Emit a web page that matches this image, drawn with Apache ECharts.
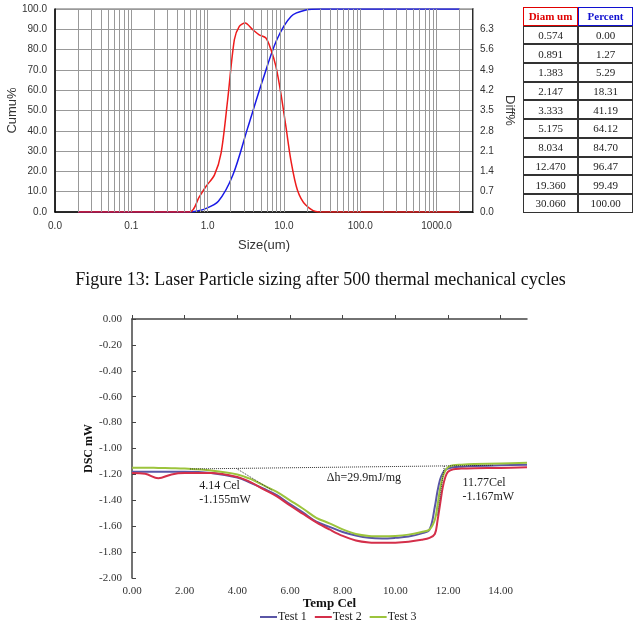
<!DOCTYPE html>
<html>
<head>
<meta charset="utf-8">
<script src="https://cdn.jsdelivr.net/npm/echarts@6/dist/echarts.min.js"></script>
<style>
  body { margin: 0; background: #fff; }
  #wrap { position: relative; width: 641px; height: 638px; }
  #main { position: absolute; left: 0; top: 0; width: 641px; height: 638px; }
  #caption { position: absolute; left: 0; top: 268px; width: 641px; text-align: center;
    font-family: "Liberation Serif", serif; font-size: 18px; line-height: 22px; color: #111; }
  #sizeTable { position: absolute; left: 523px; top: 7px; border-collapse: separate; border-spacing: 0;
    font-family: "Liberation Serif", serif; font-size: 11px; color: #222; }
  #sizeTable td, #sizeTable th { border: 1px solid #333; width: 53px; height: 16.7px; padding: 0; text-align: center; }
  #sizeTable th { font-weight: bold; }
</style>
</head>
<body>
<div id="wrap">
  <div id="main"></div>
  <table id="sizeTable"></table>
  <div id="caption"></div>
</div>
<script>
// 粒径分布 (log 轴)
var sizeCumu = [0.02, 0.574, 0.7, 0.891, 1.383, 2.147, 3.333, 5.175, 8.034, 12.47, 19.36, 30.06, 2000];
var cumuPct = [0, 0, 0.35, 1.27, 5.29, 18.31, 41.19, 64.12, 84.70, 96.47, 99.49, 100, 100];
var sizeDiff = [0.02, 0.578, 0.78, 0.95, 1.23, 1.5, 1.83, 2.24, 2.6, 3.1, 3.89, 4.74, 5.8, 6.75, 7.84, 9.1, 10.6, 12.3, 15, 19.3, 28.8, 2000];
var diffPct = [0, 0, 0.53, 0.88, 1.28, 2.03, 3.87, 5.94, 6.40, 6.52, 6.29, 6.11, 6.0, 5.6, 5.02, 4.1, 2.95, 1.8, 0.76, 0.24, 0, 0];

// 表格
var tableHead = ["Diam um", "Percent"];
var tableDiam = ["0.574", "0.891", "1.383", "2.147", "3.333", "5.175", "8.034", "12.470", "19.360", "30.060"];
var tablePct = ["0.00", "1.27", "5.29", "18.31", "41.19", "64.12", "84.70", "96.47", "99.49", "100.00"];

var captionText = "Figure 13: Laser Particle sizing after 500 thermal mechanical cycles";

// DSC 曲线
var temp = [0, 0.5, 1.0, 1.5, 2, 3, 4, 4.5, 5, 5.5, 6, 6.5, 7, 7.5, 8, 8.5, 9, 9.5, 10, 10.5, 11, 11.3, 11.5, 11.6, 11.7, 11.8, 11.9, 12.0, 12.2, 12.5, 13, 14, 15];
var test1 = [-1.18, -1.18, -1.18, -1.18, -1.18, -1.19, -1.225, -1.265, -1.31, -1.36, -1.43, -1.495, -1.565, -1.605, -1.645, -1.672, -1.69, -1.695, -1.69, -1.68, -1.655, -1.625, -1.45, -1.33, -1.24, -1.19, -1.165, -1.155, -1.145, -1.14, -1.135, -1.13, -1.125];
var test2 = [-1.19, -1.195, -1.23, -1.2, -1.19, -1.19, -1.22, -1.26, -1.315, -1.37, -1.44, -1.505, -1.57, -1.625, -1.675, -1.71, -1.725, -1.728, -1.727, -1.72, -1.705, -1.69, -1.66, -1.56, -1.43, -1.30, -1.22, -1.18, -1.16, -1.155, -1.152, -1.15, -1.145];
var test3 = [-1.148, -1.148, -1.15, -1.152, -1.155, -1.17, -1.2, -1.235, -1.285, -1.335, -1.4, -1.465, -1.535, -1.578, -1.625, -1.66, -1.675, -1.678, -1.675, -1.665, -1.645, -1.625, -1.55, -1.44, -1.31, -1.22, -1.17, -1.145, -1.13, -1.125, -1.12, -1.115, -1.11];
var baseLine = [[2.2, -1.158], [13.7, -1.13]];
var onsetLine = [[3.97, -1.155], [5.3, -1.32]];
var endLine = [[11.86, -1.135], [11.6, -1.52]];

// 表格生成
var tb = document.getElementById("sizeTable");
var html = '<tr><th style="color:#e00000;border-color:#e00000">' + tableHead[0] +
  '</th><th style="color:#1010d0;border-color:#1010d0">' + tableHead[1] + '</th></tr>';
for (var i = 0; i < tableDiam.length; i++) {
  html += '<tr><td>' + tableDiam[i] + '</td><td>' + tablePct[i] + '</td></tr>';
}
tb.innerHTML = html;
document.getElementById("caption").textContent = captionText;

function zip(xs, ys) {
  return xs.map(function (x, i) { return [x, ys[i]]; });
}

// 对数网格线
var minorGrid = [];
for (var d = 0.01; d < 1500; d *= 10) {
  for (var k = 2; k <= 10; k++) minorGrid.push({ xAxis: +(d * k).toPrecision(3) });
}
minorGrid.push({ xAxis: 2000 });

var sans = "Liberation Sans";
var serif = "Liberation Serif";
var noteLabel = { show: true, fontFamily: serif, fontSize: 12, color: "#222", align: "left", verticalAlign: "middle", lineHeight: 14, position: "inside" };
var myChart = echarts.init(document.getElementById("main"));
myChart.setOption({
  animation: false,
  grid: [
    { left: 55, top: 9, width: 418, height: 203, show: true, borderColor: "#666", borderWidth: 1, outerBoundsMode: "none" },
    { left: 132, top: 319, width: 395, height: 259, outerBoundsMode: "none" }
  ],
  xAxis: [
    {
      type: "log", gridIndex: 0, min: 0.01, max: 3000, logBase: 10,
      name: "Size(um)", nameLocation: "middle", nameGap: 27, nameMoveOverlap: false,
      nameTextStyle: { fontFamily: sans, fontSize: 13, color: "#333" },
      axisLine: { lineStyle: { color: "#000", width: 1.5 } },
      axisTick: { show: false },
      axisLabel: {
        fontFamily: sans, fontSize: 10, color: "#333", margin: 9,
        formatter: function (v) { return v > 2500 ? "" : v.toFixed(1); }
      },
      splitLine: { show: true, lineStyle: { color: "#999" } }
    },
    {
      type: "value", gridIndex: 1, min: 0, max: 15, interval: 2,
      name: "Temp Cel", nameLocation: "middle", nameGap: 19, nameMoveOverlap: false,
      nameTextStyle: { fontFamily: serif, fontSize: 13, fontWeight: "bold", color: "#111" },
      axisLine: { lineStyle: { color: "#444", width: 1.5 } },
      axisTick: { inside: true, length: 4, lineStyle: { color: "#444" } },
      axisLabel: {
        fontFamily: serif, fontSize: 11, color: "#333", margin: 8,
        showMaxLabel: false,
        formatter: function (v) { return v.toFixed(2); }
      },
      splitLine: { show: false }
    }
  ],
  yAxis: [
    {
      type: "value", gridIndex: 0, min: 0, max: 100, interval: 10,
      name: "Cumu%", nameLocation: "middle", nameGap: 36, nameMoveOverlap: false,
      nameTextStyle: { fontFamily: sans, fontSize: 13, color: "#333" },
      axisLine: { show: true, lineStyle: { color: "#000", width: 1.5 } },
      axisTick: { show: false },
      axisLabel: { fontFamily: sans, fontSize: 10, color: "#333", margin: 8, formatter: function (v) { return v.toFixed(1); } },
      splitLine: { show: true, lineStyle: { color: "#999" } }
    },
    {
      type: "value", gridIndex: 0, min: 0, max: 7, interval: 0.7, position: "right",
      name: "Diff%", nameLocation: "middle", nameGap: 30, nameRotate: -90, nameMoveOverlap: false,
      nameTextStyle: { fontFamily: sans, fontSize: 13, color: "#333" },
      axisLine: { show: true, lineStyle: { color: "#000", width: 1.5 } },
      axisTick: { show: false },
      axisLabel: {
        fontFamily: sans, fontSize: 10, color: "#333", margin: 7,
        formatter: function (v) { return v > 6.9 ? "" : v.toFixed(1); }
      },
      splitLine: { show: false }
    },
    {
      type: "value", gridIndex: 1, min: -2, max: 0, interval: 0.2,
      name: "DSC mW", nameLocation: "middle", nameGap: 37, nameMoveOverlap: false,
      nameTextStyle: { fontFamily: serif, fontSize: 12, fontWeight: "bold", color: "#111" },
      axisLine: { show: true, lineStyle: { color: "#444", width: 1.5 } },
      axisTick: { show: true, inside: true, length: 4, lineStyle: { color: "#444" } },
      axisLabel: { fontFamily: serif, fontSize: 11, color: "#333", margin: 10, formatter: function (v) { return v.toFixed(2); } },
      splitLine: { show: false }
    }
  ],
  legend: {
    data: ["Test 1", "Test 2", "Test 3"],
    left: 255, top: 606, itemWidth: 17, itemHeight: 2, itemGap: 8, icon: "rect",
    textStyle: { fontFamily: serif, fontSize: 12, color: "#222", padding: [0, 0, 0, -4] }
  },
  series: [
    {
      name: "Cumu", type: "line", xAxisIndex: 0, yAxisIndex: 0,
      data: zip(sizeCumu, cumuPct), smooth: 0.3, symbol: "none",
      lineStyle: { color: "#1a1ae6", width: 1.5 },
      markLine: {
        silent: true, symbol: "none", label: { show: false },
        lineStyle: { color: "#999", type: "solid", width: 1 },
        data: minorGrid
      },
      z: 3
    },
    {
      name: "Diff", type: "line", xAxisIndex: 0, yAxisIndex: 1,
      data: zip(sizeDiff, diffPct), smooth: 0.3, symbol: "none",
      lineStyle: { color: "#ee1c1c", width: 1.5 }, z: 4
    },
    {
      name: "Test 1", type: "line", xAxisIndex: 1, yAxisIndex: 2,
      data: zip(temp, test1), smooth: 0.35, symbol: "none",
      itemStyle: { color: "#5a56a6" }, lineStyle: { color: "#5a56a6", width: 2 }
    },
    {
      name: "Test 2", type: "line", xAxisIndex: 1, yAxisIndex: 2,
      data: zip(temp, test2), smooth: 0.35, symbol: "none",
      itemStyle: { color: "#d42f4a" }, lineStyle: { color: "#d42f4a", width: 2 }
    },
    {
      name: "Test 3", type: "line", xAxisIndex: 1, yAxisIndex: 2,
      data: zip(temp, test3), smooth: 0.35, symbol: "none",
      itemStyle: { color: "#9cc43c" }, lineStyle: { color: "#9cc43c", width: 2 },
      markPoint: {
        symbol: "rect", symbolSize: 1, silent: true,
        itemStyle: { color: "rgba(0,0,0,0)" },
        label: noteLabel,
        data: [
          { coord: [2.55, -1.34], label: { formatter: "4.14 Cel\n-1.155mW" } },
          { coord: [7.4, -1.23], label: { formatter: "\u0394h=29.9mJ/mg" } },
          { coord: [12.55, -1.32], label: { formatter: "11.77Cel\n-1.167mW" } }
        ]
      }
    },
    {
      name: "baseline", type: "line", xAxisIndex: 1, yAxisIndex: 2, data: baseLine, symbol: "none",
      lineStyle: { color: "#333", width: 1, type: "dotted" }, z: 5
    },
    {
      name: "onset", type: "line", xAxisIndex: 1, yAxisIndex: 2, data: onsetLine, symbol: "none",
      lineStyle: { color: "#333", width: 1, type: "dotted" }, z: 5
    },
    {
      name: "endset", type: "line", xAxisIndex: 1, yAxisIndex: 2, data: endLine, symbol: "none",
      lineStyle: { color: "#333", width: 1, type: "dotted" }, z: 5
    }
  ]
});
window.onresize = function () {
  myChart.resize();
};
</script>
</body>
</html>
